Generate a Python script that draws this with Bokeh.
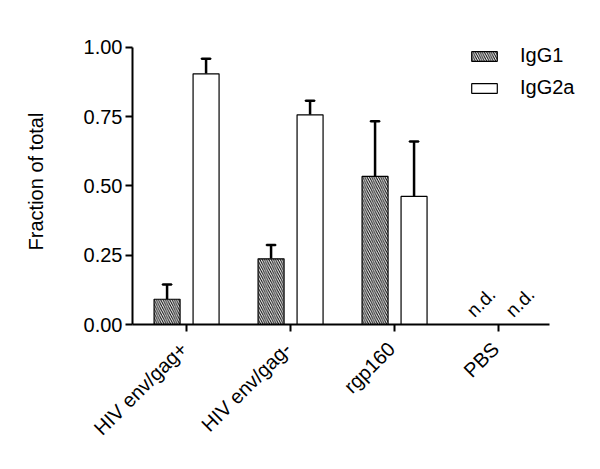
from bokeh.plotting import figure
from bokeh.models import Range1d, FixedTicker, Legend, LegendItem, ColumnDataSource, LinearAxis
from bokeh.core.properties import value
from bokeh.embed import file_html
from bokeh.resources import INLINE
import numpy as np

categories = ["HIV env/gag+", "HIV env/gag-", "rgp160", "PBS"]
igg1 = [0.091, 0.237, 0.534, 0.0]
igg1_err = [0.053, 0.050, 0.199, 0.0]
igg2a = [0.904, 0.756, 0.462, 0.0]
igg2a_err = [0.054, 0.051, 0.198, 0.0]
measured = [True, True, True, False]
nd_label = "n.d."
y_ticks = [0.0, 0.25, 0.5, 0.75, 1.0]
y_tick_labels = ["0.00", "0.25", "0.50", "0.75", "1.00"]

FONT = "Liberation Sans"
off = 0.1875
bw = 0.25
label_shift = 0.03

p = figure(width=584, height=453, output_backend="svg", toolbar_location=None,
           x_range=Range1d(-0.52, 3.788), y_range=Range1d(0, 1.0314),
           min_border_left=132, min_border_right=4, min_border_top=38, min_border_bottom=129)
p.outline_line_color = None
p.grid.visible = False
p.background_fill_color = None
p.border_fill_color = "white"

xi = np.arange(len(categories))
m = np.array(measured)
s1 = ColumnDataSource(dict(x=xi[m] - off, top=np.array(igg1)[m], up=(np.array(igg1) + np.array(igg1_err))[m]))
s2 = ColumnDataSource(dict(x=xi[m] + off, top=np.array(igg2a)[m], up=(np.array(igg2a) + np.array(igg2a_err))[m]))

for s in (s1, s2):
    p.segment(x0="x", y0="top", x1="x", y1="up", source=s, line_color="black", line_width=2.5)
    p.rect(x="x", y="up", width=0.085, height=0.0001, source=s, line_color="black", line_width=2.5)

r1 = p.vbar(x="x", top="top", width=bw, source=s1, fill_color="white", line_color="black",
            line_width=1.2, hatch_pattern="\\", hatch_color="black", hatch_scale=4.5, hatch_weight=1)
r2 = p.vbar(x="x", top="top", width=bw, source=s2, fill_color="white", line_color="black",
            line_width=1.2)

nx = np.concatenate([xi[~m] - off, xi[~m] + off])
p.text(x=nx, y=np.zeros(len(nx)), text=[nd_label] * len(nx), angle=np.pi / 4,
       text_font=value(FONT), text_font_size="19px", text_align="center", text_baseline="middle",
       x_offset=2, y_offset=-22, text_color="black")

for ax in (p.xaxis[0], p.yaxis[0]):
    ax.axis_line_width = 2
    ax.major_tick_line_width = 2
    ax.major_tick_in = 0
    ax.major_tick_out = 7
    ax.minor_tick_line_color = None
    ax.major_label_text_font = FONT
    ax.major_label_text_font_size = "20px"
    ax.major_label_text_color = "black"
    ax.axis_line_color = "black"
    ax.major_tick_line_color = "black"

# main x axis: line and ticks only
p.xaxis.bounds = (-0.52, 3.49)
p.xaxis.ticker = FixedTicker(ticks=list(range(len(categories))))
p.xaxis.major_label_overrides = {i: "" for i in range(len(categories))}
p.xaxis.major_label_standoff = 0

# label axis: rotated category labels
lab_ticks = [float(i) - label_shift for i in range(len(categories))]
lab_ax = LinearAxis(ticker=FixedTicker(ticks=lab_ticks),
                    major_label_overrides={t: c for t, c in zip(lab_ticks, categories)},
                    major_label_orientation=np.pi / 4, major_label_standoff=14,
                    axis_line_color=None, major_tick_line_color=None, minor_tick_line_color=None,
                    major_tick_in=0, major_tick_out=0,
                    major_label_text_font=FONT, major_label_text_font_size="20px",
                    major_label_text_color="black")
p.add_layout(lab_ax, "below")

p.yaxis.bounds = (0, 1)
p.yaxis.ticker = FixedTicker(ticks=y_ticks)
p.yaxis.major_label_overrides = {t: l for t, l in zip(y_ticks, y_tick_labels)}
p.yaxis.major_label_standoff = 3
p.yaxis.axis_label = "Fraction of total"
p.yaxis.axis_label_text_font = FONT
p.yaxis.axis_label_text_font_size = "20px"
p.yaxis.axis_label_text_font_style = "normal"
p.yaxis.axis_label_text_color = "black"
p.yaxis.axis_label_standoff = 34

legend = Legend(items=[LegendItem(label="IgG1", renderers=[r1]), LegendItem(label="IgG2a", renderers=[r2])],
                location=(336, 225), orientation="vertical")
legend.border_line_color = None
legend.background_fill_alpha = 0
legend.padding = 0
legend.margin = 0
legend.glyph_width = 32
legend.glyph_height = 12
legend.label_height = 16
legend.spacing = 9
legend.label_standoff = 20
legend.label_text_font = FONT
legend.label_text_font_size = "20px"
legend.label_text_color = "black"
p.add_layout(legend)

open("out.html", "w").write(file_html(p, INLINE))
